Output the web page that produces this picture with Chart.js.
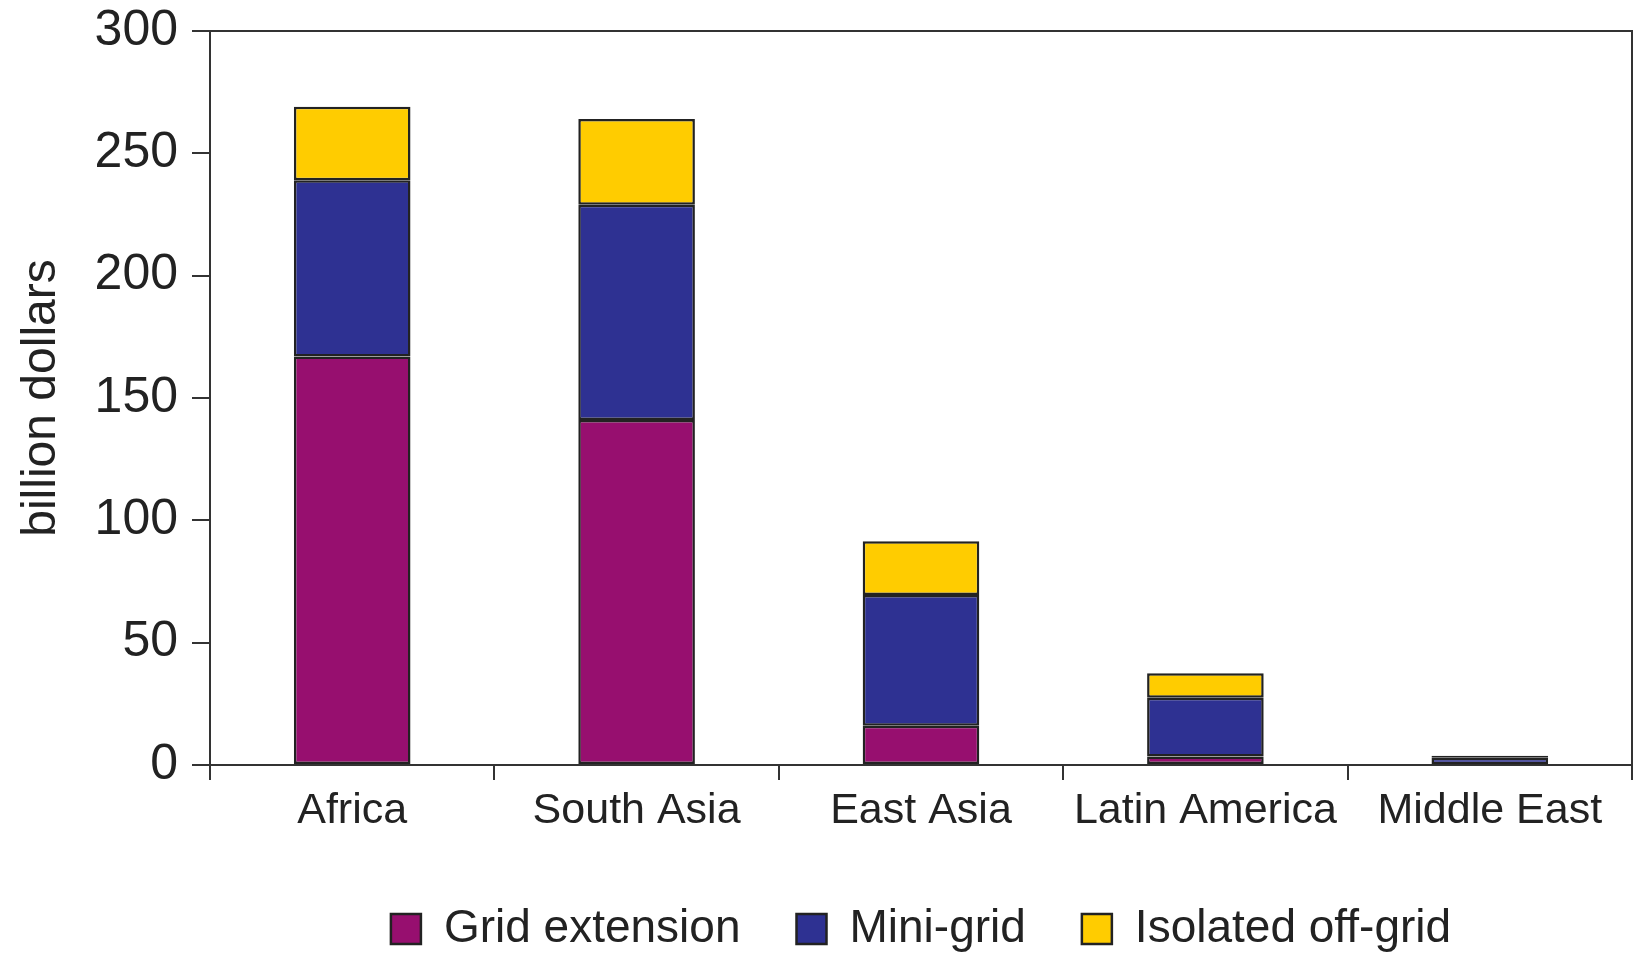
<!DOCTYPE html>
<html>
<head>
<meta charset="utf-8">
<script src="https://cdn.jsdelivr.net/npm/chart.js@4/dist/chart.umd.min.js"></script>
<style>
  html, body { margin: 0; padding: 0; background: #ffffff; }
  #wrap { width: 1633px; height: 955px; position: relative; }
</style>
</head>
<body>
<div id="wrap"><canvas id="c"></canvas></div>
<script>
const categories = ['Africa', 'South Asia', 'East Asia', 'Latin America', 'Middle East'];
const gridExtension = [167, 141, 16, 3.5, 0.3];
const miniGrid = [72, 88, 53.5, 24, 2.7];
const isolatedOffGrid = [30, 35, 22, 10, 0.8];
const yTicks = [0, 50, 100, 150, 200, 250, 300];
const seriesNames = ['Grid extension', 'Mini-grid', 'Isolated off-grid'];

const LINE = '#333333';
const TEXT = '#222222';
const FONT = '"Liberation Sans", Arial, sans-serif';

const frame = {
  id: 'frame',
  afterDraw(chart) {
    const { ctx, chartArea: a } = chart;
    ctx.save();
    ctx.strokeStyle = LINE;
    ctx.lineWidth = 2;
    ctx.beginPath();
    ctx.moveTo(a.left - 18, a.top);
    ctx.lineTo(a.right, a.top);
    ctx.lineTo(a.right, a.bottom);
    ctx.stroke();
    ctx.restore();
  }
};

const mk = (label, data, color) => ({
  label, data,
  backgroundColor: color,
  borderColor: '#222222',
  borderWidth: 2.5,
  borderSkipped: false,
  categoryPercentage: 1,
  barPercentage: 0.41
});

new Chart(document.getElementById('c'), {
  type: 'bar',
  data: {
    labels: categories,
    datasets: [
      mk(seriesNames[0], gridExtension, '#970F6F'),
      mk(seriesNames[1], miniGrid, '#2E3192'),
      mk(seriesNames[2], isolatedOffGrid, '#FFCC00')
    ]
  },
  options: {
    responsive: true,
    maintainAspectRatio: false,
    animation: false,
    devicePixelRatio: 1,
    layout: { padding: { top: 31, right: 1, left: 0, bottom: -7 } },
    plugins: {
      tooltip: { enabled: false },
      legend: {
        position: 'bottom',
        fullSize: false,
        labels: {
          boxWidth: 30,
          boxHeight: 30,
          padding: 56,
          color: TEXT,
          font: { family: FONT, size: 46 }
        }
      }
    },
    scales: {
      x: {
        stacked: true,
        afterFit(s) { s.height = 85; },
        border: { display: true, color: LINE, width: 2 },
        grid: { offset: true, drawOnChartArea: false, drawTicks: true, tickLength: 15, color: LINE, lineWidth: 2 },
        ticks: { color: TEXT, font: { family: FONT, size: 43 }, padding: 5, maxRotation: 0 }
      },
      y: {
        stacked: true,
        min: 0,
        max: 300,
        afterFit(s) { s.width = 210; },
        afterBuildTicks(s) { s.ticks = yTicks.map(v => ({ value: v })); },
        border: { display: true, color: LINE, width: 2 },
        grid: { drawOnChartArea: false, drawTicks: true, tickLength: 18, color: LINE, lineWidth: 2 },
        ticks: { color: TEXT, font: { family: FONT, size: 50, lineHeight: 0.5 }, padding: 14 },
        title: {
          display: true,
          text: 'billion dollars',
          color: TEXT,
          font: { family: FONT, size: 48 },
          padding: { top: 13, bottom: 0 }
        }
      }
    }
  },
  plugins: [frame]
});
</script>
</body>
</html>
